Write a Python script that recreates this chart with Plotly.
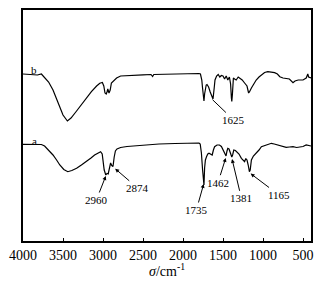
import plotly.graph_objects as go

# Spectrum b (wavenumber, cm-1) and relative transmittance (arbitrary units)
wn_b = [4000, 3900, 3820, 3770, 3740, 3680, 3625, 3560, 3500, 3445, 3400, 3340, 3290, 3220,
        3145, 3080, 3040, 3008, 2990, 2975, 2960, 2950, 2940, 2925, 2910, 2895, 2860, 2830,
        2780, 2700, 2600, 2500, 2400, 2380, 2365, 2200, 2000, 1875, 1800, 1782, 1765, 1757,
        1745, 1738, 1730, 1720, 1710, 1700, 1680, 1660, 1640, 1625, 1610, 1600, 1580, 1560,
        1540, 1520, 1500, 1480, 1460, 1440, 1420, 1405, 1395, 1390, 1383, 1370, 1355, 1335,
        1310, 1290, 1260, 1230, 1200, 1180, 1170, 1145, 1120, 1085, 1050, 1020, 980, 940,
        900, 855, 820, 790, 750, 710, 670, 625, 600, 560, 520, 500, 460, 445, 440, 430, 400]
t_b = [167, 166.5, 166, 167, 164.5, 159, 151, 137, 126, 120, 123, 129, 134.3, 142,
       149.3, 155, 157.7, 158.5, 155, 148, 147, 149, 152, 148, 151, 158, 161, 163,
       165, 165.5, 166, 166.2, 166.5, 164.5, 166.5, 167, 167.5, 167.7, 167.5, 167, 161, 154,
       143, 140, 147, 154, 156, 156.5, 154, 149, 144, 142, 153, 161, 165, 166.5,
       164, 165.5, 165, 162, 165, 161, 164, 157, 143, 139.5, 146, 163, 162, 161,
       164, 163, 161, 158, 155, 148, 149, 153, 157, 161, 164, 166, 168.5, 169.3,
       169, 168.3, 167, 164.3, 163, 162.7, 162, 158.3, 160, 161, 161, 161, 163, 166, 167, 164, 163]

# Spectrum a
wn_a = [4000, 3900, 3820, 3770, 3730, 3680, 3625, 3580, 3540, 3490, 3440, 3390, 3330, 3270,
        3210, 3150, 3105, 3060, 3030, 3010, 3000, 2985, 2965, 2950, 2935, 2920, 2905, 2890,
        2875, 2860, 2845, 2825, 2780, 2700, 2500, 2300, 2100, 1900, 1800, 1785, 1770, 1755,
        1745, 1738, 1730, 1720, 1705, 1690, 1675, 1655, 1635, 1620, 1605, 1575, 1545, 1520,
        1505, 1490, 1475, 1462, 1450, 1440, 1425, 1415, 1400, 1390, 1380, 1365, 1345, 1325,
        1300, 1270, 1245, 1230, 1215, 1200, 1185, 1170, 1160, 1145, 1120, 1085, 1050, 1020,
        990, 960, 930, 895, 860, 810, 760, 710, 670, 625, 580, 540, 500, 460, 430, 400]
t_a = [96.7, 96.5, 96, 96.5, 95, 91, 86, 81, 76, 71.5, 69.3, 70.5, 72.7, 76,
       79.3, 83, 86, 88.5, 89.3, 87, 78, 71, 66, 67.5, 67, 73, 78, 75.5,
       74.5, 84, 90, 92, 93.5, 94.5, 96, 97, 97.5, 98, 98, 97, 88, 71,
       58, 56, 73, 81, 84.5, 87, 87.7, 87, 86, 91, 94.3, 96, 96, 94.5,
       92, 89, 86, 85, 90, 92.7, 92, 89.3, 86, 84, 86, 91, 90.5, 89.3,
       87, 82.7, 80, 79.3, 82.5, 81, 76, 69.3, 71, 81, 85, 87.7, 91, 94.3,
       95, 96, 97, 97.7, 97, 96, 95, 93.7, 94, 94.3, 93.5, 93.7, 94.5, 96, 95.5, 95]

xticks = [4000, 3500, 3000, 2500, 2000, 1500, 1000, 500]

# Peak annotations: label, tip (wavenumber, value), label position (wavenumber, value)
peak_labels = ["2960", "2874", "1735", "1462", "1381", "1165", "1625"]
peak_tip_x = [2960, 2858, 1738, 1462, 1390, 1165, 1640]
peak_tip_y = [66, 73, 58, 84, 83, 68, 142]
peak_txt_x = [3083, 2563, 1833, 1563, 1270, 800, 1366]
peak_txt_y = [41, 52.7, 31, 58.3, 42.7, 46, 121]
peak_head = [2, 2, 2, 2, 2, 2, 0]

FONT = "Liberation Serif, Times New Roman, serif"

fig = go.Figure()
fig.add_trace(go.Scatter(x=wn_b, y=t_b, mode="lines", line=dict(color="black", width=1.2),
                         showlegend=False, hoverinfo="skip"))
fig.add_trace(go.Scatter(x=wn_a, y=t_a, mode="lines", line=dict(color="black", width=1.2),
                         showlegend=False, hoverinfo="skip"))

for lab, tx, ty, ax, ay, hd in zip(peak_labels, peak_tip_x, peak_tip_y,
                                     peak_txt_x, peak_txt_y, peak_head):
    fig.add_annotation(x=tx, y=ty, ax=ax, ay=ay, axref="x", ayref="y", xref="x", yref="y",
                       text=lab, showarrow=True, arrowhead=hd, arrowsize=0.8,
                       arrowwidth=1, arrowcolor="black", standoff=1,
                       font=dict(family=FONT, size=11, color="black"))

fig.add_annotation(x=3866, y=171, text="b", showarrow=False,
                   font=dict(family=FONT, size=11, color="black"))
fig.add_annotation(x=3854, y=100, text="a", showarrow=False,
                   font=dict(family=FONT, size=11, color="black"))

fig.add_annotation(x=0.5, y=-0.124, xref="paper", yref="paper", yanchor="middle",
                   text="<i>σ</i>/cm<sup>-1</sup>", showarrow=False,
                   font=dict(family=FONT, size=14, color="black"))

fig.update_layout(
    width=325, height=282,
    margin=dict(l=15, r=22, t=2, b=49),
    paper_bgcolor="white", plot_bgcolor="white",
    xaxis=dict(range=[4000, 400], tickvals=xticks, ticks="inside", ticklen=3,
               tickcolor="black", tickwidth=1.2, showgrid=False, zeroline=False,
               showline=True, linecolor="black", linewidth=1.5, mirror=True,
               automargin=False,
               tickfont=dict(family=FONT, size=14, color="black")),
    yaxis=dict(range=[0, 231], showticklabels=False, ticks="", showgrid=False,
               zeroline=False, showline=True, linecolor="black", linewidth=1.5,
               mirror=True, automargin=False),
)

fig.write_html("out.html")
